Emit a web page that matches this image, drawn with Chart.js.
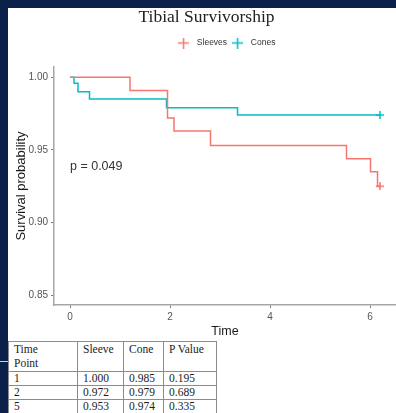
<!DOCTYPE html>
<html>
<head>
<meta charset="utf-8">
<script src="https://cdn.jsdelivr.net/npm/chart.js@4.4.1/dist/chart.umd.min.js"></script>
<style>
    html, body { margin: 0; padding: 0; }
    body { width: 396px; height: 413px; background: #0b2149; position: relative; overflow: hidden; }
    .panel { position: absolute; left: 8px; top: 8px; right: 0; bottom: 0; background: #fff; }
    .edge-line { position: absolute; left: 0; top: 361px; width: 8px; height: 1px; background: #c9d1de; }
    #km-chart { position: absolute; left: 0; top: 0; }
    .km-table {
        position: absolute; left: 8px; top: 341px;
        border-collapse: collapse; table-layout: fixed;
        font-family: "Liberation Serif", "Times New Roman", serif; font-size: 11.5px; color: #1c1c1c;
        background: #fff;
    }
    .km-table td {
        border: 1px solid #8c8c8c; padding: 0 0 0 5px;
        height: 13px; line-height: 13px; vertical-align: middle; white-space: nowrap;
    }
    .km-table tr.head td { height: 29px; line-height: 14px; vertical-align: top; }
</style>
</head>
<body>
<div class="panel"></div>
<div class="edge-line"></div>
<canvas id="km-chart" width="396" height="413"></canvas>
<div id="table-root"></div>

<script>
// 생존곡선 데이터
const sleevesTime = [0, 1.2, 1.95, 2.08, 2.81, 5.53, 6.01, 6.15, 6.2];
const sleevesSurv = [1.000, 0.991, 0.972, 0.963, 0.953, 0.944, 0.935, 0.925, 0.925];
const conesTime = [0, 0.08, 0.16, 0.39, 1.93, 3.35, 6.2];
const conesSurv = [1.000, 0.996, 0.990, 0.985, 0.979, 0.974, 0.974];

const xTicks = [0, 2, 4, 6];
const yTicks = [0.85, 0.90, 0.95, 1.00];

const pValueText = 'p = 0.049';
const pValueAt = { x: 0, y: 0.9385 };

// 아래 표
const tableHeader = ['Time<br>Point', 'Sleeve', 'Cone', 'P Value'];
const tableTimes = ['1', '2', '5'];
const tableSleeve = ['1.000', '0.972', '0.953'];
const tableCone = ['0.985', '0.979', '0.974'];
const tableP = ['0.195', '0.689', '0.335'];

const SLEEVE_COLOR = '#F8766D';
const CONE_COLOR = '#00BFC4';

Chart.defaults.font.family = '"Liberation Sans", Arial, sans-serif';

function toPoints(times, surv) {
    return times.map((t, i) => ({ x: t, y: surv[i] }));
}

// "+" 모양 마커 (범례와 censor 표시에 사용)
function makeCross(color, size) {
    const c = document.createElement('canvas');
    c.width = size;
    c.height = size;
    const g = c.getContext('2d');
    g.strokeStyle = color;
    g.lineWidth = 1.5;
    g.beginPath();
    g.moveTo(0, size / 2); g.lineTo(size, size / 2);
    g.moveTo(size / 2, 0); g.lineTo(size / 2, size);
    g.stroke();
    return c;
}

// 0번 점 스타일은 범례에 쓰이고, 마지막 점에만 censor 표시
function pointStyles(times, color) {
    const legendMark = makeCross(color, 11);
    const censorMark = makeCross(color, 8);
    return times.map((t, i) => (i === 0 ? legendMark : censorMark));
}
function censorRadius(times) {
    return times.map((t, i) => (i === times.length - 1 ? 3.5 : 0));
}

const pValuePlugin = {
    id: 'pValue',
    afterDatasetsDraw(chart) {
        const { ctx, scales: { x, y } } = chart;
        ctx.save();
        ctx.font = '12.5px "Liberation Sans", Arial, sans-serif';
        ctx.fillStyle = '#333';
        ctx.textAlign = 'left';
        ctx.textBaseline = 'middle';
        ctx.fillText(pValueText, x.getPixelForValue(pValueAt.x), y.getPixelForValue(pValueAt.y));
        ctx.restore();
    }
};

new Chart(document.getElementById('km-chart').getContext('2d'), {
    type: 'line',
    data: {
        datasets: [
            {
                label: 'Sleeves',
                data: toPoints(sleevesTime, sleevesSurv),
                borderColor: SLEEVE_COLOR,
                backgroundColor: SLEEVE_COLOR,
                borderWidth: 1.5,
                stepped: true,
                pointStyle: pointStyles(sleevesTime, SLEEVE_COLOR),
                pointRadius: censorRadius(sleevesTime),
                fill: false
            },
            {
                label: 'Cones',
                data: toPoints(conesTime, conesSurv),
                borderColor: CONE_COLOR,
                backgroundColor: CONE_COLOR,
                borderWidth: 1.5,
                stepped: true,
                pointStyle: pointStyles(conesTime, CONE_COLOR),
                pointRadius: censorRadius(conesTime),
                fill: false
            }
        ]
    },
    options: {
        responsive: false,
        animation: false,
        layout: { autoPadding: false, padding: { left: 17, top: 0, right: 0, bottom: 68 } },
        plugins: {
            title: {
                display: true,
                text: 'Tibial Survivorship',
                color: '#222',
                font: { family: '"Liberation Serif", "Times New Roman", serif', size: 17.5, weight: 'normal' },
                padding: { top: 6.5, bottom: 9.75 }
            },
            legend: {
                position: 'top',
                fullSize: false,
                labels: {
                    usePointStyle: true,
                    pointStyleWidth: 18,
                    padding: 1.5,
                    color: '#333',
                    font: { size: 8.5 }
                }
            },
            // 범례와 그래프 사이 여백용 (빈 부제목)
            subtitle: {
                display: true,
                text: '',
                weight: 500,
                font: { size: 1, lineHeight: 1 },
                padding: { top: 8.75, bottom: 0 }
            },
            tooltip: { enabled: false }
        },
        scales: {
            x: {
                type: 'linear',
                min: -0.32,
                max: 6.52,
                afterBuildTicks: s => { s.ticks = xTicks.map(v => ({ value: v })); },
                afterFit: s => { s.height = 40; s.paddingLeft = 0; s.paddingRight = 0; },
                ticks: { color: '#555', font: { size: 10 }, padding: 3 },
                grid: { drawOnChartArea: false, tickLength: 3, color: '#777' },
                border: { color: '#a6a6a6', width: 1.5 },
                title: {
                    display: true,
                    text: 'Time',
                    color: '#1a1a1a',
                    font: { size: 12.5 },
                    padding: { top: 0, bottom: 5.5 }
                }
            },
            y: {
                min: 0.8433,
                max: 1.0071,
                afterBuildTicks: s => { s.ticks = yTicks.map(v => ({ value: v })); },
                afterFit: s => { s.width = 37; },
                ticks: { color: '#555', font: { size: 10 }, padding: 3, callback: v => Number(v).toFixed(2) },
                grid: { drawOnChartArea: false, tickLength: 3, color: '#777' },
                border: { color: '#a6a6a6', width: 1.5 },
                title: {
                    display: true,
                    text: 'Survival probability',
                    color: '#1a1a1a',
                    font: { size: 13 },
                    padding: { top: -3.3, bottom: 0 }
                }
            }
        }
    },
    plugins: [pValuePlugin]
});

/* -------------------- 표 -------------------- */

function renderTable() {
    const rows = tableTimes.map((t, i) => `
        <tr>
            <td>${t}</td>
            <td>${tableSleeve[i]}</td>
            <td>${tableCone[i]}</td>
            <td>${tableP[i]}</td>
        </tr>
    `).join('');

    return `
        <table class="km-table">
            <colgroup>
                <col style="width:69px"><col style="width:46px"><col style="width:40px"><col style="width:53px">
            </colgroup>
            <tr class="head">${tableHeader.map(h => `<td>${h}</td>`).join('')}</tr>
            ${rows}
        </table>
    `;
}

document.getElementById('table-root').innerHTML = renderTable();
</script>
</body>
</html>
